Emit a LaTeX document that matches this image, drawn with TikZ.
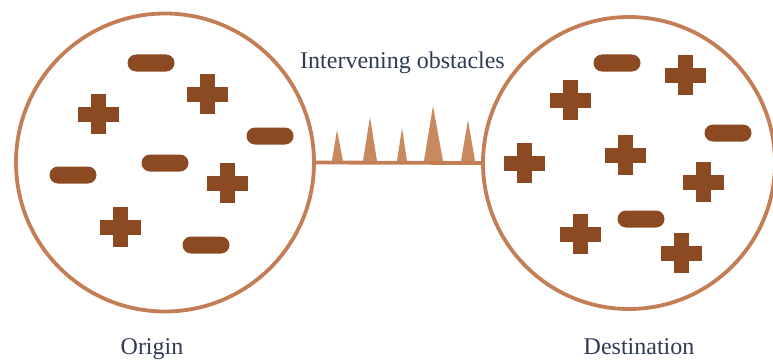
\documentclass[tikz,border=0pt]{standalone}
\usepackage{fontspec}
\setmainfont{Liberation Serif}
\definecolor{ringc}{HTML}{C47E55}
\definecolor{chargec}{HTML}{8B4A22}
\definecolor{spikec}{HTML}{C8895F}
\definecolor{labelc}{HTML}{2E3A56}
\begin{document}
\begin{tikzpicture}[x=1pt,y=-1pt,
  ring/.style={circle, draw=ringc, line width=3.8pt, minimum size=#1, inner sep=0pt},
  caption/.style={anchor=base, text=labelc, font=\fontsize{24}{28}\selectfont, inner sep=0pt},
  pics/plus/.style={code={
    \fill[chargec] (-20.5,-7.5) rectangle (20.5,7.5);
    \fill[chargec] (-7.5,-20) rectangle (7.5,20);}},
  pics/minus/.style={code={
    \fill[chargec, rounded corners=8.5pt] (-23.5,-8.5) rectangle (23.5,8.5);}}
]
\useasboundingbox (0,0) rectangle (773,361);

% the two regions
\node[ring=298] (origin) at (165,162.5) {};
\node[ring=292] (dest) at (629,163) {};

% link with the obstacles standing on it
\draw[ringc, line width=3.8pt] (origin.east) -- (dest.west);
\fill[spikec] (332,161) -- (337,130) -- (343,161) -- cycle;
\fill[spikec] (363,161) -- (370,117) -- (377,161) -- cycle;
\fill[spikec] (397,161) -- (402,128) -- (407,161) -- cycle;
\fill[spikec] (424,161) -- (433,106) -- (443,161) -- cycle;
\fill[spikec] (461,161) -- (468,120) -- (475,161) -- cycle;

% charges in the origin
\pic at (151,63) {minus};
\pic at (270,136) {minus};
\pic at (165,163) {minus};
\pic at (73,175) {minus};
\pic at (206,245) {minus};
\pic at (98,114) {plus};
\pic at (207,94) {plus};
\pic at (227,183) {plus};
\pic at (120,227) {plus};

% charges in the destination
\pic at (617,63) {minus};
\pic at (728,133) {minus};
\pic at (641,219) {minus};
\pic at (685,75) {plus};
\pic at (570,100) {plus};
\pic at (524,163) {plus};
\pic at (625,155) {plus};
\pic at (703,182) {plus};
\pic at (580,234) {plus};
\pic at (681,253) {plus};

% labels
\node[caption] (obst) at (402.5,69) {Intervening obstacles};
\node[caption] (lorigin) at (152,354) {Origin};
\node[caption] (ldest) at (639,354) {Destination};
\end{tikzpicture}
\end{document}
